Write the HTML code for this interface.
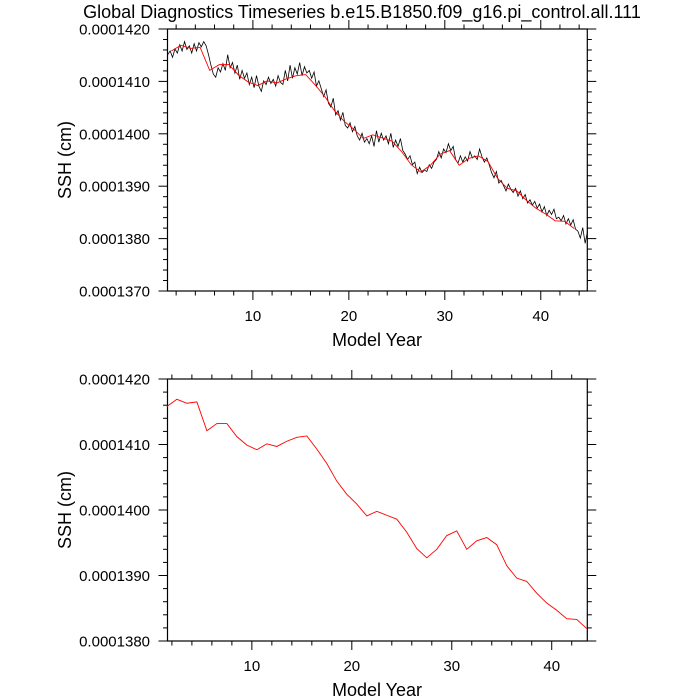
<!DOCTYPE html>
<html><head><meta charset="utf-8"><style>
body{margin:0;background:#fff;}
svg{display:block;font-family:"Liberation Sans",sans-serif;}
</style></head><body>
<svg id="chart" width="700" height="700" xmlns="http://www.w3.org/2000/svg">
<text x="362" y="18" text-anchor="middle" font-size="18">Global Diagnostics Timeseries b.e15.B1850.f09_g16.pi_control.all.111</text>
</svg>
<script>
// Annual means (units of 1e-7 cm above 0.0001380), years 1.5..43.5
const annualYears = [1.5,2.5,3.5,4.5,5.5,6.5,7.5,8.5,9.5,10.5,11.5,12.5,13.5,14.5,15.5,16.5,17.5,18.5,19.5,20.5,21.5,22.5,23.5,24.5,25.5,26.5,27.5,28.5,29.5,30.5,31.5,32.5,33.5,34.5,35.5,36.5,37.5,38.5,39.5,40.5,41.5,42.5,43.5];
const annualValues = [3.58,3.69,3.63,3.65,3.21,3.32,3.32,3.12,2.99,2.92,3.01,2.97,3.05,3.11,3.13,2.93,2.71,2.44,2.24,2.09,1.91,1.98,1.92,1.86,1.66,1.41,1.27,1.40,1.61,1.68,1.40,1.53,1.58,1.47,1.15,0.96,0.91,0.73,0.58,0.47,0.34,0.33,0.19];
// Sub-annual values (units of 1e-7 cm above 0.0001370), quarterly, years 1..44
const subValues = [4.55,4.62,4.50,4.66, 4.58,4.74,4.62,4.80, 4.65,4.72,4.58,4.76, 4.62,4.78,4.70,4.80,
4.72,4.55,4.35,4.18, 4.12,4.30,4.22,4.38, 4.25,4.55,4.30,4.40, 4.20,4.35,4.08,4.25, 4.10,4.20,3.98,4.12,
3.92,4.15,3.95,3.85, 4.05,3.98,4.12,4.00, 4.08,3.95,4.15,4.02, 3.98,4.25,4.05,4.35, 4.10,4.30,4.18,4.40,
4.15,4.32,4.20,4.25, 4.10,4.22,3.95,4.05, 3.90,3.75,3.88,3.62, 3.55,3.72,3.40,3.48, 3.30,3.45,3.20,3.15,
3.25,3.08,3.18,3.00, 2.92,3.05,2.88,2.95, 2.85,3.00,2.80,3.10, 2.88,3.05,2.92,3.00, 2.85,3.05,2.78,2.92,
2.80,2.95,2.72,2.65, 2.55,2.62,2.45,2.50, 2.28,2.40,2.30,2.35, 2.32,2.45,2.38,2.50, 2.55,2.70,2.58,2.75,
2.68,2.85,2.72,2.80, 2.55,2.48,2.62,2.50, 2.60,2.52,2.70,2.58, 2.62,2.55,2.75,2.60, 2.50,2.58,2.45,2.30,
2.20,2.32,2.10,2.15, 2.05,1.95,2.08,1.98, 1.92,2.00,1.85,1.95, 1.80,1.88,1.72,1.78, 1.68,1.75,1.62,1.70,
1.55,1.65,1.48,1.58, 1.50,1.60,1.42,1.45, 1.38,1.48,1.32,1.42, 1.30,1.40,1.22,1.18, 1.05,1.25,0.95,1.18];
const topYTicks = ["0.0001370","0.0001380","0.0001390","0.0001400","0.0001410","0.0001420"];
const botYTicks = ["0.0001380","0.0001390","0.0001400","0.0001410","0.0001420"];
const xTicks = [10,20,30,40];

const NS = "http://www.w3.org/2000/svg";
const svgEl = document.getElementById('chart');
function mk(tag, attrs, parent){const e=document.createElementNS(NS,tag);for(const k in attrs)e.setAttribute(k,attrs[k]);(parent||svgEl).appendChild(e);return e;}

function panel(p){
  const g = mk('g',{});
  
  
  const L=167.5,R=587.3,T=p.top,B=p.bottom;
  const sx = v => L + (v - p.xmin)/(p.xmax - p.xmin)*(R-L);
  const sy = v => B - (v - p.ymin)/(p.ymax - p.ymin)*(B-T);
  for (let yr = 2; yr <= 44; yr += 2) {
    if (yr < p.xmin || yr > p.xmax) continue;
    const x = sx(yr), maj = yr % 10 === 0, len = maj ? 9 : 4.5;
    mk('line',{x1:x,x2:x,y1:B,y2:B+len,stroke:'#000','stroke-width':1},g);
    mk('line',{x1:x,x2:x,y1:T,y2:T-len,stroke:'#000','stroke-width':1},g);
  }
  const nMinor = Math.round((p.ymax - p.ymin)/0.2);
  for (let k = 0; k <= nMinor; k++) {
    const v = p.ymin + k*0.2;
    const y = sy(v), maj = k % 5 === 0, len = maj ? 9 : 4.5;
    mk('line',{x1:L,x2:L-len,y1:y,y2:y,stroke:'#000','stroke-width':1},g);
    mk('line',{x1:R,x2:R+len,y1:y,y2:y,stroke:'#000','stroke-width':1},g);
  }
  const frame = mk('rect',{x:L,y:T,width:R-L,height:B-T,fill:'none',stroke:'#000','stroke-width':1.2},g);
  
  
  p.yticks.forEach((lab,i)=>{
    const t = mk('text',{x:150,y:sy(p.ymin+i)+5.5,'text-anchor':'end','font-size':15},g);
    
    
    t.textContent = lab;
  });
  xTicks.forEach(v=>{
    const t = mk('text',{x:sx(v),y:B+30,'text-anchor':'middle','font-size':15},g);
    
    
    t.textContent = v;
  });
  const xt = mk('text',{x:377,y:B+55,'text-anchor':'middle','font-size':18},g);
  
  
  xt.textContent = 'Model Year';
  const yc=(T+B)/2;
  const yt = mk('text',{x:71,y:yc,'text-anchor':'middle','font-size':18,transform:`rotate(-90 71 ${yc})`},g);
  
  
  yt.textContent = 'SSH (cm)';
  return {g,sx,sy};
}

const topP = panel({name:'top-panel',top:29,bottom:291,xmin:1.1,xmax:44.85,ymin:0,ymax:5,yticks:topYTicks});
let d = subValues.map((v,i)=>(i?'L':'M')+topP.sx(1+0.125+i*0.25).toFixed(2)+','+topP.sy(v-0.04).toFixed(2)).join('');
const blk = mk('path',{d,fill:'none',stroke:'#000','stroke-width':0.8},topP.g);


d = annualValues.map((v,i)=>(i?'L':'M')+topP.sx(annualYears[i]).toFixed(2)+','+topP.sy(v+1).toFixed(2)).join('');
const rd1 = mk('path',{d,fill:'none',stroke:'#ff0000','stroke-width':0.9},topP.g);



const botP = panel({name:'bottom-panel',top:379,bottom:641,xmin:1.56,xmax:43.56,ymin:0,ymax:4,yticks:botYTicks});
d = annualValues.map((v,i)=>(i?'L':'M')+botP.sx(annualYears[i]).toFixed(2)+','+botP.sy(v).toFixed(2)).join('');
const rd2 = mk('path',{d,fill:'none',stroke:'#ff0000','stroke-width':0.9},botP.g);


</script>
</body></html>
